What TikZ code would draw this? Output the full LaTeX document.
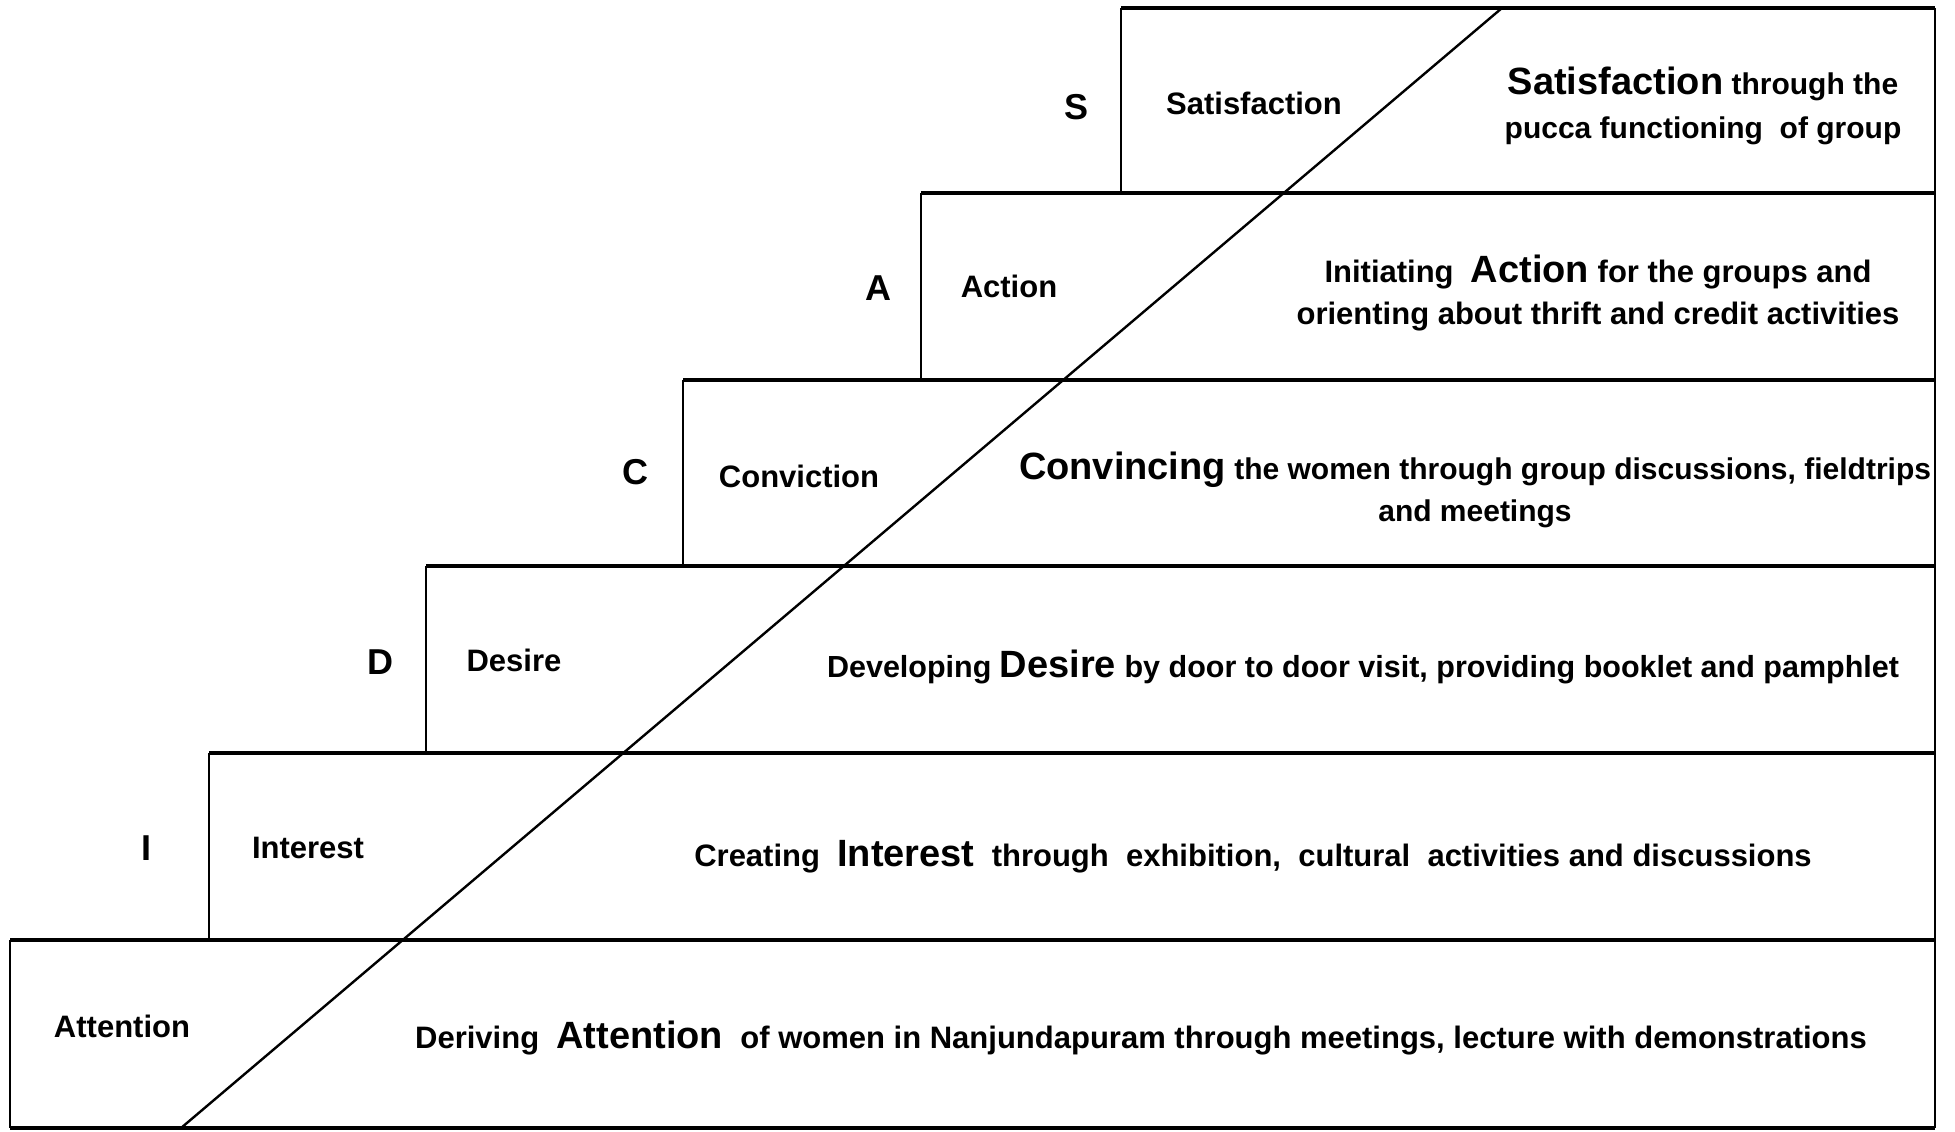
\documentclass[tikz,border=0pt]{standalone}
\usepackage{fontspec}
\setmainfont{Liberation Sans}
\newcommand{\bigword}[1]{{\fontsize{38}{42}\selectfont\bfseries #1}}
\begin{document}
\begin{tikzpicture}[x=1pt,y=-1pt,
  hl/.style={line width=4pt},
  vl/.style={line width=2.4pt},
  dl/.style={line width=2.4pt},
  letter/.style={font=\fontsize{36}{40}\selectfont\bfseries, anchor=base, inner sep=0pt},
  lab/.style={font=\fontsize{31}{36}\selectfont\bfseries, anchor=base, inner sep=0pt},
  desc/.style={font=\fontsize{31}{42}\selectfont\bfseries, anchor=base, inner sep=0pt, align=center},
  descs/.style={desc, font=\fontsize{30}{42}\selectfont\bfseries},
  descm/.style={desc, font=\fontsize{30.5}{42}\selectfont\bfseries}
]
\useasboundingbox (0,0) rectangle (1955,1132);
\fill[white] (0,0) rectangle (1955,1132);
% step corners
\coordinate (sTL) at (1121,8);
\coordinate (aTL) at (921,193);
\coordinate (cTL) at (683,380);
\coordinate (dTL) at (426,566);
\coordinate (iTL) at (209,753);
\coordinate (tTL) at (10,940);
\coordinate (bL) at (10,1128);
\coordinate (rT) at (1935,8);
\coordinate (rB) at (1935,1128);
% horizontals
\draw[hl] (sTL) -- (rT);
\draw[hl] (aTL) -- (1935,193);
\draw[hl] (cTL) -- (1935,380);
\draw[hl] (dTL) -- (1935,566);
\draw[hl] (iTL) -- (1935,753);
\draw[hl] (tTL) -- (1935,940);
\draw[hl] (bL) -- (rB);
% verticals
\draw[vl] (sTL) -- (1121,193);
\draw[vl] (aTL) -- (921,380);
\draw[vl] (cTL) -- (683,566);
\draw[vl] (dTL) -- (426,753);
\draw[vl] (iTL) -- (209,940);
\draw[vl] (tTL) -- (bL);
\draw[vl] (rT) -- (rB);
% diagonal
\coordinate (diagB) at (181,1128);
\coordinate (diagT) at (1502,8);
\draw[dl] (diagB) -- (diagT);
% letters
\node[letter] (ls) at (1076,119) {S};
\node[letter] (la) at (878,300) {A};
\node[letter] (lc) at (635,484) {C};
\node[letter] (ld) at (380,674) {D};
\node[letter] (li) at (146,860) {I};
% labels
\node[lab] (ns) at (1254,114) {Satisfaction};
\node[lab] (na) at (1009,297) {Action};
\node[lab] (nc) at (799,487) {Conviction};
\node[lab] (nd) at (514,671) {Desire};
\node[lab] (ni) at (308,858) {Interest};
\node[lab] (nt) at (122,1037) {Attention};
% descriptions
\node[descs] (ds1) at (1703,95) {\bigword{Satisfaction} through the};
\node[descs] (ds2) at (1703,138) {pucca functioning\ \ of group};
\node[desc] (da1) at (1598,282) {Initiating\ \ \bigword{Action} for the groups and};
\node[desc] (da2) at (1598,324) {orienting about thrift and credit activities};
\node[descs] (dc1) at (1475,479) {\bigword{Convincing} the women through group discussions, fieldtrips};
\node[descs] (dc2) at (1475,521) {and meetings};
\node[descm] (dd) at (1363,677) {Developing \bigword{Desire} by door to door visit, providing booklet and pamphlet};
\node[desc] (di) at (1253,866) {Creating\ \ \bigword{Interest}\ \ through\ \ exhibition,\ \ cultural\ \ activities and discussions};
\node[desc] (dt) at (1141,1048) {Deriving\ \ \bigword{Attention}\ \ of women in Nanjundapuram through meetings, lecture with demonstrations};
\end{tikzpicture}
\end{document}
